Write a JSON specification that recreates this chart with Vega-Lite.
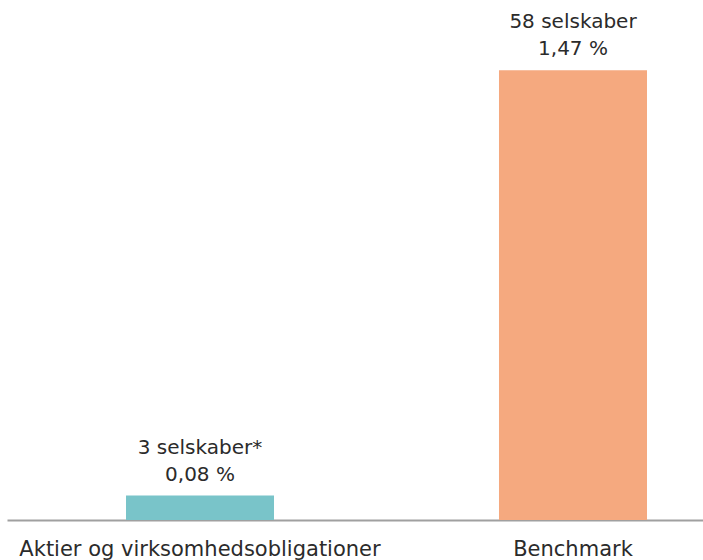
{
  "$schema": "https://vega.github.io/schema/vega-lite/v6.json",
  "width": 696,
  "height": 520,
  "autosize": {"type": "none"},
  "padding": {"left": 7, "top": 0, "right": 0, "bottom": 40},
  "background": "white",
  "config": {"view": {"stroke": null}, "font": "DejaVu Sans"},
  "data": {
    "values": [
      {"kategori": "Aktier og virksomhedsobligationer", "andel": 0.08, "selskaber": "3 selskaber*", "pct": "0,08 %"},
      {"kategori": "Benchmark", "andel": 1.47, "selskaber": "58 selskaber", "pct": "1,47 %"}
    ]
  },
  "encoding": {
    "x": {
      "field": "kategori",
      "type": "nominal",
      "sort": null,
      "scale": {"paddingInner": 0.6032, "paddingOuter": 0.2346, "align": 0.68},
      "axis": {
        "title": null,
        "labelAngle": 0,
        "labelFontSize": 21,
        "labelColor": "#2b2b2b",
        "labelPadding": 18,
        "labelLimit": 0,
        "labelFont": "DejaVu Sans",
        "ticks": false,
        "domainColor": "#a0a0a0",
        "domainWidth": 2,
        "grid": false
      }
    },
    "y": {
      "field": "andel",
      "type": "quantitative",
      "scale": {"domain": [0, 1.7]},
      "axis": null
    }
  },
  "layer": [
    {
      "mark": {"type": "bar"},
      "encoding": {
        "color": {
          "field": "kategori",
          "type": "nominal",
          "scale": {"range": ["#79C4C9", "#F5A97F"]},
          "legend": null
        }
      }
    },
    {
      "mark": {"type": "text", "baseline": "alphabetic", "dy": -42, "fontSize": 20, "color": "#2b2b2b", "font": "DejaVu Sans"},
      "encoding": {
        "text": {"field": "selskaber"}
      }
    },
    {
      "mark": {"type": "text", "baseline": "alphabetic", "dy": -15, "fontSize": 20, "color": "#2b2b2b", "font": "DejaVu Sans"},
      "encoding": {
        "text": {"field": "pct"}
      }
    }
  ]
}
